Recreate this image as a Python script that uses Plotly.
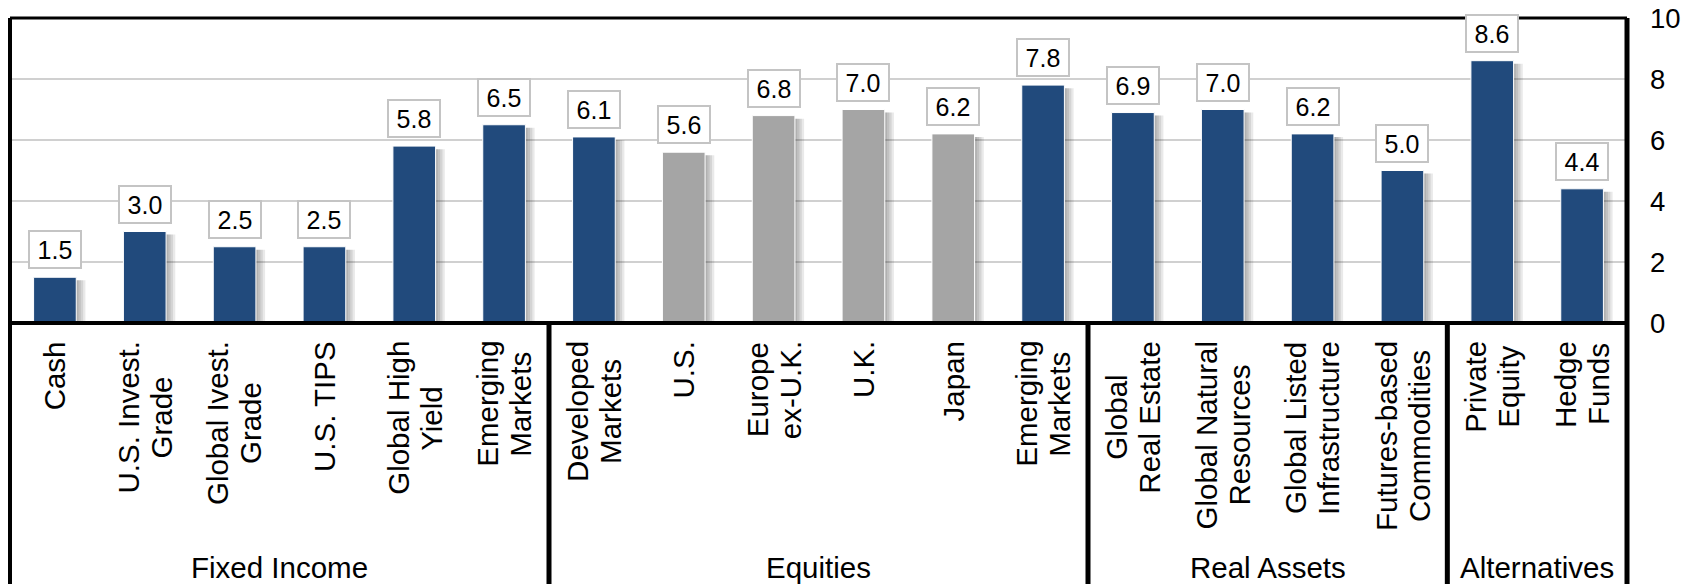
import plotly.graph_objects as go

# Expected returns by asset class
categories = [
    "Cash", "U.S. Invest.<br>Grade", "Global Ivest.<br>Grade", "U.S. TIPS",
    "Global High<br>Yield", "Emerging<br>Markets",
    "Developed<br>Markets", "U.S.", "Europe<br>ex-U.K.", "U.K.", "Japan",
    "Emerging<br>Markets",
    "Global<br>Real Estate", "Global Natural<br>Resources",
    "Global Listed<br>Infrastructure", "Futures-based<br>Commodities",
    "Private<br>Equity", "Hedge<br>Funds",
]
values = [1.5, 3.0, 2.5, 2.5, 5.8, 6.5,
          6.1, 5.6, 6.8, 7.0, 6.2, 7.8,
          6.9, 7.0, 6.2, 5.0,
          8.6, 4.4]
groups = ["Fixed Income", "Equities", "Real Assets", "Alternatives"]
group_sizes = [6, 6, 4, 2]
highlight = [False] * 7 + [True] * 4 + [False] * 7   # grey bars

NAVY = "#214A7C"
GREY = "#A5A5A5"
FONT = "Arial, Liberation Sans, sans-serif"
LABEL_SIZE = 29.5
LINE_GAP = 33          # px between the two lines of a category label

# Arial / Liberation Sans advance widths (1/1000 em) for laying out labels
ADV = {" ": 278, ".": 278, "-": 333}
ADV.update(dict(zip("ABCDEFGHIJKLMNOPQRSTUVWXYZ",
                    [667, 667, 722, 722, 667, 611, 778, 722, 278, 500, 667,
                     556, 833, 722, 778, 667, 778, 722, 667, 611, 722, 667,
                     944, 667, 667, 611])))
ADV.update(dict(zip("abcdefghijklmnopqrstuvwxyz",
                    [556, 556, 500, 556, 556, 278, 556, 556, 222, 222, 500,
                     222, 833, 556, 556, 556, 556, 333, 500, 278, 556, 500,
                     722, 500, 500, 500])))


def text_len(s, size):
    return sum(ADV.get(ch, 556) for ch in s) * size / 1000.0


W, H = 1704, 584
ML, MR, MT, MB = 10, 77, 18, 261
plot_w = W - ML - MR
plot_h = H - MT - MB
n = len(values)
px_x = n / plot_w          # data units per pixel along x
px_y = 1.0 / plot_h        # paper units per pixel along y

xs = list(range(n))
bar_w = 0.475
colors = [GREY if h else NAVY for h in highlight]

fig = go.Figure()

# soft drop shadow to the right of each bar
for k in range(1, 5):
    fig.add_trace(go.Bar(
        x=xs, y=values, base=-0.1,
        width=bar_w, offset=-bar_w / 2 + k * 2.3 * px_x,
        marker=dict(color="rgba(0,0,0,0.085)", line=dict(width=0)),
        hoverinfo="skip", showlegend=False,
    ))

fig.add_trace(go.Bar(
    x=xs, y=values,
    width=bar_w, offset=-bar_w / 2,
    marker=dict(color=colors, line=dict(color="white", width=1)),
    showlegend=False,
))

annotations = []
# value boxes above bars
for x, v in zip(xs, values):
    annotations.append(dict(
        x=x, y=v, xref="x", yref="y", text=f"{v:.1f}",
        showarrow=False, yanchor="bottom", xanchor="center", yshift=8,
        font=dict(family=FONT, size=25, color="black"),
        bgcolor="white", bordercolor="#C4C4C4", borderwidth=2,
        borderpad=0, width=50, height=35,
    ))

# rotated category labels: block top-aligned, lines centred on each other
label_top = 341
for x, c in zip(xs, categories):
    lines = c.split("<br>")
    longest = max(text_len(s, LABEL_SIZE) for s in lines)
    yc = -(label_top - MT - plot_h + longest / 2) * px_y
    for i, s in enumerate(lines):
        shift = (i - (len(lines) - 1) / 2) * LINE_GAP
        annotations.append(dict(
            x=x, y=yc, xref="x", yref="paper", text=s, xshift=shift,
            showarrow=False, textangle=-90, xanchor="center",
            yanchor="middle", borderpad=0,
            font=dict(family=FONT, size=LABEL_SIZE, color="black"),
        ))

# group labels and separators
shapes = []
start = 0
for g, s in zip(groups, group_sizes):
    mid = start + (s - 1) / 2
    annotations.append(dict(
        x=mid, y=-244 * px_y, xref="x", yref="paper", text=g,
        showarrow=False, xanchor="center", yanchor="middle",
        font=dict(family=FONT, size=29.5, color="black"),
    ))
    start += s
    if start < n:
        shapes.append(dict(type="line", xref="x", yref="paper",
                           x0=start - 0.5, x1=start - 0.5,
                           y0=-0.95, y1=0,
                           line=dict(color="black", width=5)))

# frame around plot and category table
shapes += [
    dict(type="line", xref="paper", yref="paper", x0=0, x1=1, y0=1, y1=1,
         line=dict(color="black", width=3)),
    dict(type="line", xref="paper", yref="paper", x0=0, x1=0, y0=-0.95, y1=1,
         line=dict(color="black", width=4)),
    dict(type="line", xref="paper", yref="paper", x0=1, x1=1, y0=-0.95, y1=1,
         line=dict(color="black", width=5)),
    dict(type="line", xref="paper", yref="paper", x0=0, x1=1, y0=0, y1=0,
         line=dict(color="black", width=4)),
]

fig.update_layout(
    width=W, height=H,
    margin=dict(l=ML, r=MR, t=MT, b=MB, pad=0),
    paper_bgcolor="white", plot_bgcolor="white",
    barmode="overlay",
    xaxis=dict(range=[-0.5, n - 0.5], showticklabels=False, showgrid=False,
               zeroline=False, showline=False, fixedrange=True),
    yaxis=dict(range=[0, 10], dtick=2, side="right", showgrid=True,
               gridcolor="#D0D0D0", gridwidth=2, zeroline=False,
               showline=False, ticks="", ticklabelstandoff=22,
               automargin=False,
               tickfont=dict(family=FONT, size=27.5, color="black")),
    annotations=annotations,
    shapes=shapes,
)

fig.write_html("out.html")
